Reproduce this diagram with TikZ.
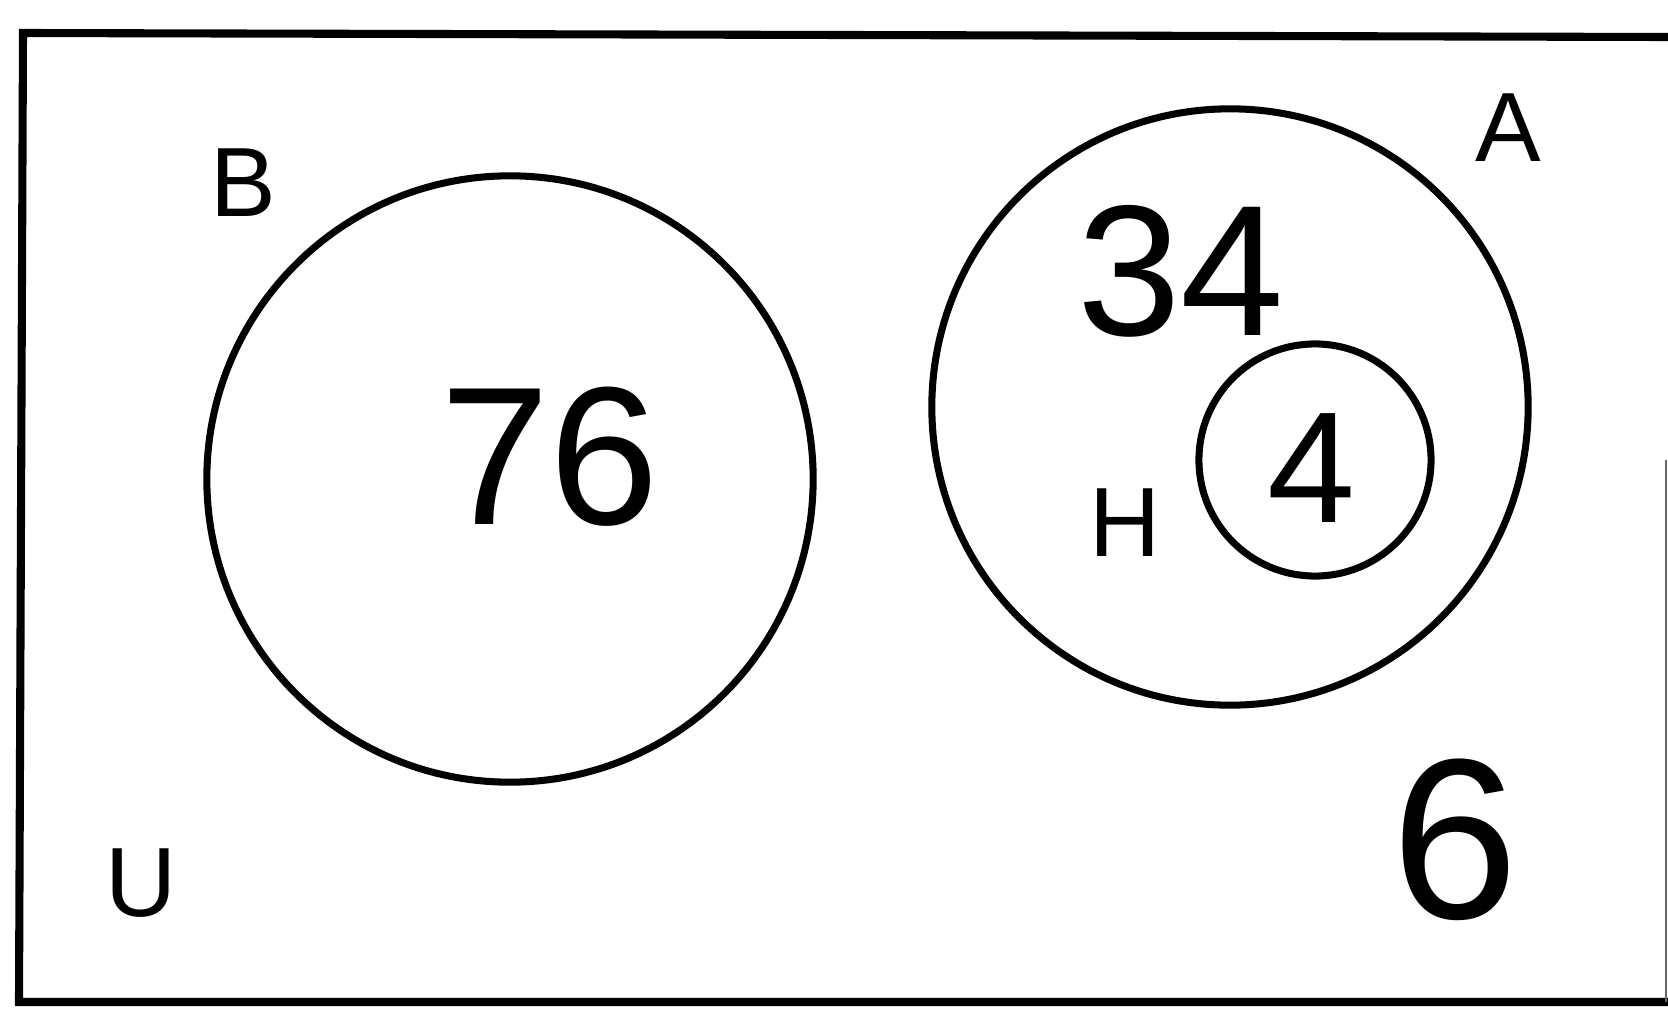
\documentclass[tikz,border=0pt]{standalone}
\usepackage{fontspec}
\setmainfont{Liberation Sans}
\usepackage{tikz}

\begin{document}
\begin{tikzpicture}[x=0.01cm,y=-0.01cm,
    setname/.style={font=\fontsize{28}{30}\selectfont},
    setcircle/.style={draw,circle,line width=2pt,inner sep=0pt}]
    \useasboundingbox (0,0) rectangle (1668,1009);
    \clip (0,0) rectangle (1668,1009);
    % Universe
    \draw[line width=2.3pt] (1668,37) -- (23,33) -- (19,1002) -- (1668,1002);
    \draw[line width=0.8pt,black!60] (1666,460) -- (1666,1002);
    \node[setname] (u) at (141,883) {U};

    % Set B
    \node[setcircle,minimum size=6.06cm] (b) at (510,479) {};
    \node[setname] (blabel) at (243,183) {B};
    \node[font=\fontsize{56}{60}\selectfont] (bcount) at (550,457) {76};

    % Set A with H inside
    \node[setcircle,minimum size=5.96cm] (a) at (1230,407) {};
    \node[setname] (alabel) at (1508,128) {A};
    \node[font=\fontsize{53}{56}\selectfont] (acount) at (1181,271) {34};
    \node[setcircle,minimum size=2.32cm] (h) at (1315,460) {};
    \node[setname] (hlabel) at (1125,523) {H};
    \node[font=\fontsize{45}{48}\selectfont] (hcount) at (1312,468) {4};

    % outside
    \node[font=\fontsize{65}{70}\selectfont] (ucount) at (1455,840) {6};
\end{tikzpicture}
\end{document}
